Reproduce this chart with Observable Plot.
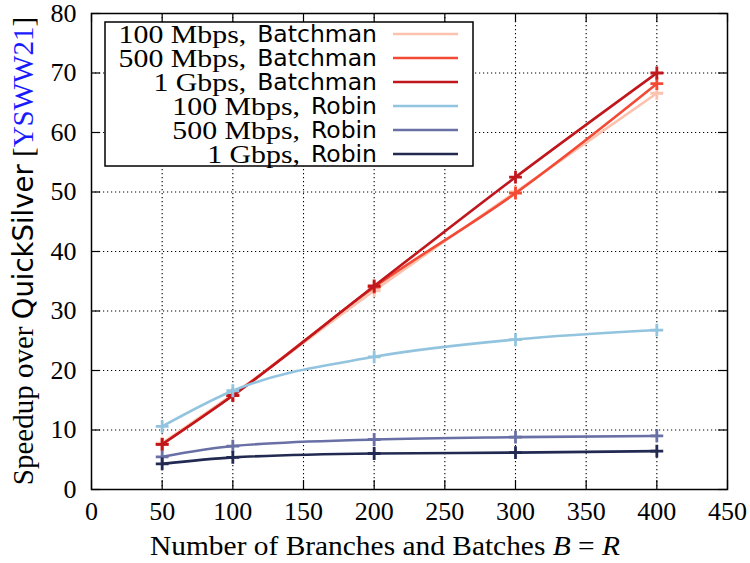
<!DOCTYPE html>
<html><head><meta charset="utf-8">
<script src="https://cdn.jsdelivr.net/npm/d3@7"></script>
<script src="https://cdn.jsdelivr.net/npm/@observablehq/plot@0.6"></script>
<style>
body{margin:0;background:#fff;}
#chart{width:750px;height:563px;}
</style></head><body><div id="chart"></div>
<script>
const xValues = [50, 100, 200, 300, 400];
const seriesNames = ["100 Mbps, Batchman", "500 Mbps, Batchman", "1 Gbps, Batchman",
                     "100 Mbps, Robin", "500 Mbps, Robin", "1 Gbps, Robin"];
const batchman100 = [7.8, 16.0, 33.4, 50.0, 66.6];
const batchman500 = [7.6, 15.8, 34.0, 49.8, 68.2];
const batchman1g  = [7.6, 15.8, 34.2, 52.5, 70.0];
const robin100 = [10.6, 16.6, 22.3, 25.2, 26.8];
const robin500 = [5.5, 7.3, 8.4, 8.8, 9.0];
const robin1g  = [4.3, 5.4, 6.05, 6.2, 6.45];
const seriesColors = ["#fcc2ad", "#f34a36", "#c0171d", "#93c4df", "#6870a6", "#222a52"];
const xTicks = [0, 50, 100, 150, 200, 250, 300, 350, 400, 450];
const yTicks = [0, 10, 20, 30, 40, 50, 60, 70, 80];

const allValues = [batchman100, batchman500, batchman1g, robin100, robin500, robin1g];
const data = [];
allValues.forEach((vals, i) => vals.forEach((v, j) => data.push({name: seriesNames[i], x: xValues[j], y: v})));

const W = 750, H = 563, mL = 91, mR = 23, mT = 13, mB = 74;
const innerH = H - mT - mB, innerW = W - mL - mR;
const tickLen = 9;
const serif = "Liberation Serif", sans = "DejaVu Sans";
const gridStyle = {stroke: "black", strokeOpacity: 1, strokeWidth: 1.1, strokeDasharray: "1.2,2.8"};

const marks = [
  Plot.gridX(xTicks.slice(1, -1), gridStyle),
  Plot.gridY(yTicks.slice(1, -1), gridStyle),
  Plot.tickX(xTicks, {x: d => d, insetTop: innerH - tickLen, stroke: "black", strokeWidth: 1.2}),
  Plot.tickX(xTicks, {x: d => d, insetBottom: innerH - tickLen, stroke: "black", strokeWidth: 1.2}),
  Plot.tickY(yTicks, {y: d => d, insetRight: innerW - tickLen, stroke: "black", strokeWidth: 1.2}),
  Plot.tickY(yTicks, {y: d => d, insetLeft: innerW - tickLen, stroke: "black", strokeWidth: 1.2})
];
seriesNames.forEach(name => {
  const d = data.filter(r => r.name === name);
  marks.push(Plot.line(d, {x: "x", y: "y", stroke: "name", strokeWidth: 2.6, curve: "monotone-x"}));
  marks.push(Plot.dot(d, {x: "x", y: "y", stroke: "name", symbol: "plus", r: 4.2, strokeWidth: 2.8}));
});
marks.push(
  Plot.frame({stroke: "black", strokeWidth: 1.5}),
  Plot.axisX(xTicks, {tickSize: 0, tickPadding: 12, label: null, fontSize: 26, fontFamily: serif}),
  Plot.axisY(yTicks, {tickSize: 0, tickPadding: 15, label: null, fontSize: 26, fontFamily: serif})
);

const plot = Plot.plot({
  width: W, height: H,
  marginLeft: mL, marginRight: mR, marginTop: mT, marginBottom: mB,
  x: {domain: [0, 450]},
  y: {domain: [0, 80]},
  color: {domain: seriesNames, range: seriesColors},
  style: {fontFamily: serif, fontSize: "26px", color: "black", background: "white", overflow: "visible"},
  marks
});
document.getElementById("chart").appendChild(plot);

const svg = d3.select(plot);

// y-axis title
const yl = svg.append("text")
  .attr("transform", "translate(33,251) rotate(-90)")
  .attr("text-anchor", "middle")
  .attr("fill", "black");
yl.append("tspan").attr("font-family", serif).attr("font-size", 29).text("Speedup over ");
yl.append("tspan").attr("font-family", sans).attr("font-size", 27.5).text("QuickSilver");
yl.append("tspan").attr("font-family", serif).attr("font-size", 29).text(" [");
yl.append("tspan").attr("font-family", serif).attr("font-size", 29).attr("fill", "#1a1aff").text("YSWW21");
yl.append("tspan").attr("font-family", serif).attr("font-size", 29).text("]");

// x-axis title (slightly stretched horizontally like the reference)
const xl = svg.append("text")
  .attr("transform", "translate(385,555) scale(1.07,1)")
  .attr("text-anchor", "middle")
  .attr("font-size", 27.5)
  .attr("font-family", serif)
  .attr("fill", "black");
xl.append("tspan").text("Number of Branches and Batches ");
xl.append("tspan").attr("font-style", "italic").text("B");
xl.append("tspan").text(" = ");
xl.append("tspan").attr("font-style", "italic").text("R");

// legend
const lg = svg.append("g");
lg.append("rect").attr("x", 105).attr("y", 22).attr("width", 368).attr("height", 144)
  .attr("fill", "white").attr("stroke", "black").attr("stroke-width", 1.5);
const textRight = 377, gap = 11, stretch = 1.17;
seriesNames.forEach((name, i) => {
  const cy = 34 + i * 24;
  const parts = name.split(", ");
  const s = lg.append("text").attr("x", textRight).attr("y", cy).attr("dy", "0.36em")
    .attr("text-anchor", "end").attr("fill", "black")
    .attr("font-family", sans).attr("font-size", 23.5).text(parts[1]);
  const wSans = s.node().getComputedTextLength();
  lg.append("text")
    .attr("transform", `translate(${textRight - wSans - gap},${cy}) scale(${stretch},1)`)
    .attr("dy", "0.34em")
    .attr("text-anchor", "end").attr("fill", "black")
    .attr("font-family", serif).attr("font-size", 25.5).text(parts[0] + ",");
  lg.append("line").attr("x1", 393).attr("x2", 458).attr("y1", cy).attr("y2", cy)
    .attr("stroke", seriesColors[i]).attr("stroke-width", 2.6);
});
</script></body></html>
